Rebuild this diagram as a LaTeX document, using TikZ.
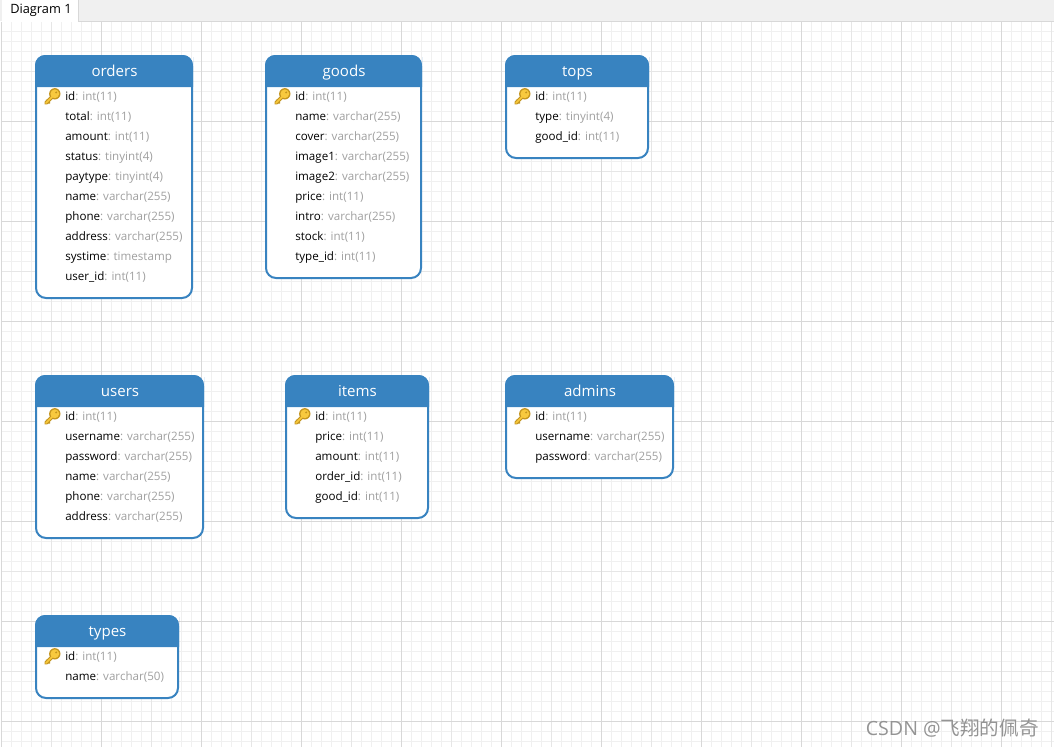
\documentclass[tikz,border=0pt]{standalone}
\usepackage{fontspec}
\setmainfont{Open Sans}
\newfontfamily\cjkfont{Noto Sans CJK SC}
\usepackage{xcolor}
\usetikzlibrary{positioning}
\definecolor{tableblue}{HTML}{3883C0}
\definecolor{typegray}{HTML}{A0A0A0}
\definecolor{gridminor}{HTML}{F0F0F0}
\definecolor{gridmid}{HTML}{E6E6E6}
\definecolor{gridmajor}{HTML}{D8D8D8}
\definecolor{barfill}{HTML}{F0F0F0}
\definecolor{keygold}{HTML}{F8C93E}
\definecolor{keydark}{HTML}{C4951F}
\tikzset{
  tablebox/.style={draw=tableblue,line width=1.5pt,fill=white,rounded corners=7.5pt,
    rectangle,inner sep=0pt,outer sep=0pt,anchor=north west},
  tabletitle/.style={text=white,anchor=base,font=\fontsize{11.3pt}{13pt}\selectfont,inner sep=0pt},
  fieldrow/.style={anchor=base west,font=\fontsize{8.7pt}{10pt}\selectfont,inner sep=0pt},
  key/.pic={
    \draw[keydark,line width=2.7pt,line cap=round] (-6,6) -- (1,-1);
    \draw[keydark,line width=1.8pt,line cap=round] (-5.2,3.4) -- (-2.8,5.8);
    \fill[keydark] (2.8,-3.2) circle (5.7);
    \draw[keygold,line width=1.3pt,line cap=round] (-6,6) -- (1,-1);
    \fill[keygold] (2.8,-3.2) circle (4.4);
    \fill[keydark] (4.2,-4.6) circle (1.1);
  }
}
% one table: name, left, top, width, height, field/type list
\newcommand{\dbtable}[6]{
  \node[tablebox,minimum width={(#4-2)*.75pt},minimum height={(#5-2)*.75pt}] (#1) at (#2+1,#3+1) {};
  \fill[tableblue] (#2,#3+32) [rounded corners=7.5pt] -- (#2,#3) -- (#2+#4,#3) -- (#2+#4,#3+12) [sharp corners] -- (#2+#4,#3+32) -- cycle;
  \node[tabletitle] (#1-title) at (#2+#4/2+.5,#3+21) {#1};
  \pic at (#2+17,#3+42) {key};
  \foreach \fname/\ftype [count=\i] in {#6}
    \node[fieldrow] (#1-\i) at (#2+30,#3+25+20*\i) {\fname\textcolor{typegray}{: \ftype}};
}
\begin{document}
\begin{tikzpicture}[x=.75pt,y=-.75pt]
  \useasboundingbox (0,0) rectangle (1054,747);
  % background grid
  \foreach \gx in {1.5,11.5,...,1051.5}
    \draw[gridminor,line width=.75pt] (\gx,22) -- (\gx,747);
  \foreach \gy in {21.5,31.5,...,741.5}
    \draw[gridminor,line width=.75pt] (2,\gy) -- (1054,\gy);
  \foreach \gx in {51.5,151.5,...,1051.5}
    \draw[gridmid,line width=.75pt] (\gx,22) -- (\gx,747);
  \foreach \gy in {71.5,171.5,...,671.5}
    \draw[gridmid,line width=.75pt] (2,\gy) -- (1054,\gy);
  \foreach \gx in {1.5,101.5,...,1001.5}
    \draw[gridmajor,line width=.75pt] (\gx,22) -- (\gx,747);
  \foreach \gy in {21.5,121.5,...,721.5}
    \draw[gridmajor,line width=.75pt] (2,\gy) -- (1054,\gy);
  % tab bar
  \fill[barfill] (0,0) rectangle (1054,21);
  \fill[white] (2,0) rectangle (78,22);
  \draw[gridmajor,line width=.75pt] (78.5,0) -- (78.5,21);
  \node[anchor=base west,inner sep=0pt,font=\fontsize{9.6pt}{11pt}\selectfont] (tab) at (10,13) {Diagram 1};
  % tables
  \dbtable{orders}{35}{55}{158}{244}{id/int(11),total/int(11),amount/int(11),status/tinyint(4),
    paytype/tinyint(4),name/varchar(255),phone/varchar(255),address/varchar(255),
    systime/timestamp,user\_id/int(11)}
  \dbtable{goods}{265}{55}{157}{224}{id/int(11),name/varchar(255),cover/varchar(255),
    image1/varchar(255),image2/varchar(255),price/int(11),intro/varchar(255),stock/int(11),
    type\_id/int(11)}
  \dbtable{tops}{505}{55}{144}{104}{id/int(11),type/tinyint(4),good\_id/int(11)}
  \dbtable{users}{35}{375}{169}{164}{id/int(11),username/varchar(255),password/varchar(255),
    name/varchar(255),phone/varchar(255),address/varchar(255)}
  \dbtable{items}{285}{375}{144}{144}{id/int(11),price/int(11),amount/int(11),
    order\_id/int(11),good\_id/int(11)}
  \dbtable{admins}{505}{375}{169}{104}{id/int(11),username/varchar(255),password/varchar(255)}
  \dbtable{types}{35}{615}{144}{84}{id/int(11),name/varchar(50)}
  % caption in the corner
  \node[anchor=base east,inner sep=0pt,text=black!42,font=\fontsize{14.7pt}{16pt}\selectfont] (mark) at (1039,735)
    {CSDN @{\cjkfont 飞翔的佩奇}};
\end{tikzpicture}
\end{document}
